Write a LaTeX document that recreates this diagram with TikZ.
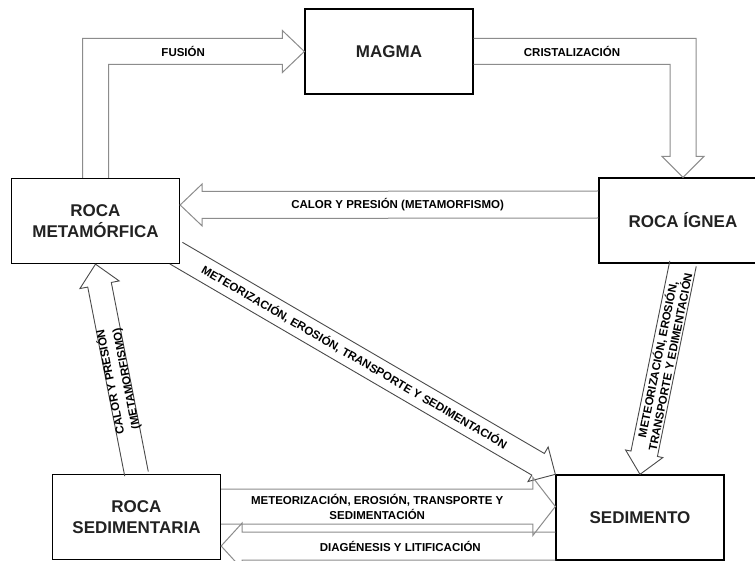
\documentclass[tikz,border=0pt]{standalone}
\usepackage{fontspec}
\setmainfont{Liberation Sans}
\usetikzlibrary{calc}

\definecolor{grisflecha}{HTML}{8C8C8C}
\definecolor{grisoscuro}{HTML}{4A4A4A}
\definecolor{textoroca}{HTML}{222222}

% flecha de bloque: [estilo]{nombre}{inicio}{punta}{medio ancho}{medio ancho punta}{largo punta}
\newcommand{\flecha}[7][]{%
  \coordinate (#2-i) at #3;
  \coordinate (#2-p) at #4;
  \coordinate (#2-b) at ($(#2-p)!#7!(#2-i)$);
  \draw [bloque,#1] ($(#2-i)!#5!90:(#2-p)$) -- ($(#2-b)!#5!-90:(#2-i)$) -- ($(#2-b)!#6!-90:(#2-i)$) -- (#2-p) -- ($(#2-b)!#6!90:(#2-i)$) -- ($(#2-b)!#5!90:(#2-i)$) -- ($(#2-i)!#5!-90:(#2-p)$);
}

\begin{document}
\begin{tikzpicture}[x=1pt, y=-1pt]
    \tikzstyle{roca} = [rectangle, draw, line width=1.3pt, fill=white, minimum width=168pt, minimum height=85pt, align=center, text=textoroca, font=\fontsize{17}{21}\selectfont\bfseries]
    \tikzstyle{bloque} = [draw=grisflecha, line width=1pt, line join=miter]
    \tikzstyle{diag} = [draw=grisoscuro, line width=0.9pt]
    \tikzstyle{etiqueta} = [font=\fontsize{11.5}{15}\selectfont\bfseries, inner sep=0pt, align=center]

    \fill [white] (0,0) rectangle (755,561);
    \useasboundingbox (0,0) rectangle (755,561);

    \node [roca] (magma) at (389,51.5) {MAGMA};
    \node [roca] (meta) at (95.5,221) {ROCA\\METAMÓRFICA};
    \node [roca] (ignea) at (683,220.5) {ROCA ÍGNEA};
    \node [roca] (sedim) at (136.5,517) {ROCA\\SEDIMENTARIA};
    \node [roca] (sedto) at (640,517.5) {SEDIMENTO};

    \coordinate (fu) at (meta.north |- magma.west);
    \draw [bloque] ([xshift=-13pt]meta.north) -- ([shift={(-13pt,13pt)}]fu) -- ([shift={(-22pt,13pt)}]magma.west) -- ([shift={(-22pt,21pt)}]magma.west) -- (magma.west) -- ([shift={(-22pt,-21pt)}]magma.west) -- ([shift={(-22pt,-13pt)}]magma.west) -- ([shift={(13pt,-13pt)}]fu) -- ([xshift=13pt]meta.north);
    \node [etiqueta] (tfu) at ($(fu)!0.42!(magma.west)$) {FUSIÓN};

    \coordinate (cr) at (ignea.north |- magma.east);
    \draw [bloque] ([yshift=13pt]magma.east) -- ([shift={(13pt,13pt)}]cr) -- ([shift={(13pt,21pt)}]ignea.north) -- ([shift={(21pt,21pt)}]ignea.north) -- (ignea.north) -- ([shift={(-21pt,21pt)}]ignea.north) -- ([shift={(-13pt,21pt)}]ignea.north) -- ([shift={(-13pt,-13pt)}]cr) -- ([yshift=-13pt]magma.east);
    \node [etiqueta] (tcr) at ($(magma.east)!0.47!(cr)$) {CRISTALIZACIÓN};

    \flecha{cp}{([yshift=16pt]ignea.west)}{([yshift=16pt]meta.east)}{13.5pt}{21pt}{22pt}
    \node [etiqueta] (tcp) at ($(cp-i)!0.48!(cp-p)$) {CALOR Y PRESIÓN (METAMORFISMO)};

    \flecha[diag]{mes}{([shift={(-4pt,11pt)}]meta.south east)}{(sedto.north west)}{12.5pt}{20pt}{20pt}
    \path (mes-i) -- node [etiqueta, sloped, pos=0.47] (tmes) {METEORIZACIÓN, EROSIÓN, TRANSPORTE Y SEDIMENTACIÓN} (mes-p);

    \flecha[diag]{ise}{(ignea.south)}{(sedto.north)}{13.5pt}{19pt}{21pt}
    \path (ise-i) -- node [etiqueta, sloped, pos=0.46, font=\fontsize{11.5}{11}\selectfont\bfseries] (tise) {METEORIZACIÓN, EROSIÓN,\\TRANSPORTE Y EDIMENTACIÓN} (ise-p);

    \flecha[diag]{sme}{(sedim.north)}{(meta.south)}{12pt}{20pt}{21pt}
    \path (sme-i) -- node [etiqueta, sloped, allow upside down, pos=0.445, font=\fontsize{11.5}{16}\selectfont\bfseries] (tsme) {CALOR Y PRESIÓN\\(METAMORFISMO)} (sme-p);

    \flecha{ss}{([yshift=10.5pt]sedim.east)}{([yshift=11pt]sedto.west)}{17.5pt}{29pt}{22.5pt}
    \node [etiqueta] (tss) at ($(ss-i)!0.467!(ss-p)$) {METEORIZACIÓN, EROSIÓN, TRANSPORTE Y\\SEDIMENTACIÓN};

    \flecha{dl}{([yshift=-28.5pt]sedto.west)}{([yshift=-29pt]sedim.east)}{14pt}{23pt}{21pt}
    \node [etiqueta] (tdl) at ($(dl-i)!0.464!(dl-p)$) {DIAGÉNESIS Y LITIFICACIÓN};
\end{tikzpicture}
\end{document}
